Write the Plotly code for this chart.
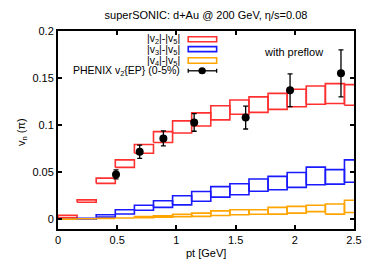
import plotly.graph_objects as go

# ---- data ----
bin_width = 2.5 / 15.5
n_bins = 16

red_lo = [0.0015, 0.018, 0.038, 0.055, 0.070, 0.0815, 0.0915, 0.0990, 0.1055, 0.1115, 0.1135, 0.1167, 0.1195, 0.1222, 0.123, 0.121]
red_hi = [0.0040, 0.0205, 0.0436, 0.0630, 0.0794, 0.0930, 0.1045, 0.1130, 0.1205, 0.1266, 0.1300, 0.1337, 0.1380, 0.1415, 0.144, 0.143]

blue_lo = [0.0000, 0.0002, 0.0021, 0.0055, 0.0094, 0.0125, 0.0152, 0.0190, 0.0234, 0.0259, 0.0296, 0.0313, 0.0337, 0.0365, 0.0372, 0.0392]
blue_hi = [0.0008, 0.0010, 0.0047, 0.0099, 0.0148, 0.0195, 0.0248, 0.0294, 0.0346, 0.0376, 0.0426, 0.0455, 0.0495, 0.0553, 0.0526, 0.0630]

orange_lo = [0.0000, 0.0004, 0.0008, 0.0012, 0.0016, 0.0020, 0.0025, 0.0029, 0.0039, 0.0046, 0.0052, 0.0053, 0.0064, 0.0080, 0.0053, 0.0070]
orange_hi = [0.0004, 0.0008, 0.0014, 0.0020, 0.0027, 0.0035, 0.0050, 0.0064, 0.0088, 0.0099, 0.0100, 0.0125, 0.0136, 0.0147, 0.0160, 0.0200]

phenix_pt = [0.49, 0.69, 0.89, 1.15, 1.585, 1.96, 2.39]
phenix_v2 = [0.0475, 0.0716, 0.0858, 0.1028, 0.108, 0.137, 0.155]
phenix_err = [0.0048, 0.0070, 0.0080, 0.0094, 0.0122, 0.0175, 0.025]

x_ticks = [0, 0.5, 1, 1.5, 2, 2.5]
y_ticks = [0, 0.05, 0.1, 0.15, 0.2]
y_tick_text = ["0", "0.05", "0.1", "0.15", "0.2"]

labels = ["|v<sub>2</sub>|-|v<sub>5</sub>|", "|v<sub>3</sub>|-|v<sub>5</sub>|",
          "|v<sub>4</sub>|-|v<sub>5</sub>|", "PHENIX v<sub>2</sub>{EP} (0-5%)"]


def box_path(lo, hi):
    xs, ys = [], []
    for i in range(n_bins):
        x0 = i * bin_width
        x1 = (i + 1) * bin_width
        xs += [x0, x1, x1, x0, x0, None]
        ys += [lo[i], lo[i], hi[i], hi[i], lo[i], None]
    return xs, ys


fig = go.Figure()
colors = ["#ff3030", "#1a1aff", "#ffa500"]
for (lo, hi), c in zip([(red_lo, red_hi), (blue_lo, blue_hi), (orange_lo, orange_hi)], colors):
    xs, ys = box_path(lo, hi)
    fig.add_trace(go.Scatter(x=xs, y=ys, mode="lines", line=dict(color=c, width=1.6),
                             showlegend=False, hoverinfo="skip"))

fig.add_trace(go.Scatter(x=phenix_pt, y=phenix_v2, mode="markers",
                         marker=dict(color="black", size=8),
                         error_y=dict(type="data", array=phenix_err, color="black",
                                      thickness=1.3, width=2.5),
                         showlegend=False))

# manual legend (gnuplot style: text left, sample right)
leg_y = [0.958, 0.906, 0.851, 0.799]
shapes = []
rect_y = [(0.946, 0.971), (0.896, 0.921), (0.837, 0.865)]
for (y0, y1), c in zip(rect_y, colors):
    shapes.append(dict(type="rect", xref="paper", yref="paper", x0=0.440, x1=0.536,
                       y0=y0, y1=y1, line=dict(color=c, width=1.6)))
shapes.append(dict(type="line", xref="paper", yref="paper", x0=0.440, x1=0.536,
                   y0=0.799, y1=0.799, line=dict(color="black", width=1.3)))
for xe in (0.440, 0.536):
    shapes.append(dict(type="line", xref="paper", yref="paper", x0=xe, x1=xe,
                       y0=0.789, y1=0.809, line=dict(color="black", width=1.3)))
shapes.append(dict(type="circle", xref="paper", yref="paper", x0=0.4745, x1=0.4995,
                   y0=0.781, y1=0.817, fillcolor="black", line=dict(color="black", width=0)))

annotations = []
for txt, yy in zip(labels, leg_y):
    annotations.append(dict(text=txt, xref="paper", yref="paper", x=0.418, y=yy,
                            xanchor="right", yanchor="middle", showarrow=False,
                            font=dict(size=10.5, color="black")))
annotations.append(dict(text="with preflow", xref="x", yref="y", x=1.99, y=0.178,
                        xanchor="center", yanchor="middle", showarrow=False,
                        font=dict(size=11, color="black")))
# axis titles
annotations.append(dict(text="pt [GeV]", xref="paper", yref="paper", x=0.5, y=(229 - 253) / 198,
                        xanchor="center", yanchor="middle", showarrow=False,
                        font=dict(size=11, color="black")))
annotations.append(dict(text="v<sub>n</sub> (π)", xref="paper", yref="paper", x=(22 - 58) / 296,
                        y=(229 - 132) / 198, xanchor="center", yanchor="middle", showarrow=False,
                        textangle=-90, font=dict(size=11, color="black")))

# page body has an 8px margin, so the figure is offset by 8px
W, H, OFF = 366, 254, 8
fig.update_layout(
    width=W, height=H,
    margin=dict(l=58 - OFF, r=W - (354 - OFF), t=31 - OFF, b=H - (229 - OFF), autoexpand=False),
    paper_bgcolor="white", plot_bgcolor="white",
    font=dict(family="Liberation Sans, Arial, sans-serif", size=11, color="black"),
    title=dict(text="superSONIC: d+Au @ 200 GeV, η/s=0.08", x=(206 - OFF) / W, xanchor="center",
               y=1 - (15 - OFF) / H, yanchor="middle", font=dict(size=11)),
    shapes=shapes, annotations=annotations,
)
fig.update_xaxes(range=[0, 2.5], tickvals=x_ticks, ticktext=[str(t) for t in x_ticks],
                 showgrid=False, zeroline=False, showline=True, linecolor="black",
                 linewidth=2, mirror="ticks", ticks="inside", ticklen=4, tickwidth=1.5,
                 tickcolor="black", automargin=False)
fig.update_yaxes(range=[-0.0105, 0.2], tickvals=y_ticks, ticktext=y_tick_text,
                 showgrid=False, zeroline=False, showline=True, linecolor="black",
                 linewidth=2, mirror="ticks", ticks="inside", ticklen=4, tickwidth=1.5,
                 tickcolor="black", automargin=False)

fig.write_html("out.html")
